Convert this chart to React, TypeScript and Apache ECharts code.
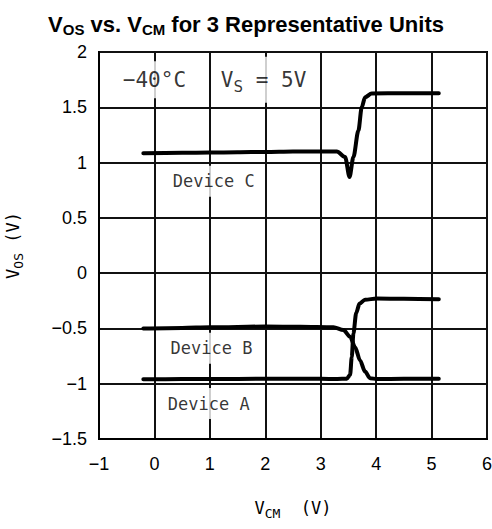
import React, { useEffect, useRef } from "react";
import * as echarts from "echarts";

// V_CM (V) sample positions and V_OS (V) values
const deviceAX = [-0.2, 0.5, 1.0, 2.0, 3.0, 3.3, 3.47, 3.53, 3.56, 3.59, 3.64, 3.7, 3.8, 4.01, 4.5, 5.13];
const deviceAY = [-0.96, -0.958, -0.957, -0.956, -0.956, -0.957, -0.955, -0.92, -0.76, -0.545, -0.36, -0.275, -0.24, -0.23, -0.232, -0.235];

const deviceBX = [-0.2, 0.5, 1.0, 2.0, 2.63, 3.23, 3.41, 3.53, 3.62, 3.71, 3.8, 3.89, 4.01, 4.5, 5.13];
const deviceBY = [-0.5, -0.495, -0.49, -0.483, -0.485, -0.49, -0.515, -0.575, -0.67, -0.79, -0.89, -0.95, -0.958, -0.956, -0.955];

const deviceCX = [-0.2, 0.5, 1.0, 1.5, 2.0, 2.5, 3.0, 3.29, 3.44, 3.52, 3.59, 3.68, 3.74, 3.8, 3.92, 4.5, 5.13];
const deviceCY = [1.085, 1.088, 1.09, 1.093, 1.096, 1.1, 1.1, 1.1, 1.05, 0.87, 1.05, 1.29, 1.5, 1.59, 1.625, 1.627, 1.627];

// Annotation texts and their anchor positions (data coordinates)
const noteTexts = ["\u221240\u00b0C", "V{s|S} = 5V", "Device C", "Device B", "Device A"];
const noteX = [0.0, 1.97, 1.07, 1.03, 0.98];
const noteY = [1.75, 1.75, 0.83, -0.68, -1.18];
const noteSize = [21, 21, 17, 17, 17];
const notePad = [[8, 4], [8, 4], [7, 5], [7, 5], [7, 5]];

const xMin = -1, xMax = 6, xStep = 1;
const yMin = -1.5, yMax = 2, yStep = 0.5;

const zip = (xs: number[], ys: number[]) => xs.map((x, i) => [x, ys[i]]);
const minus = (v: number) => String(v).replace("-", "\u2212");

export default function App() {
  const ref = useRef<HTMLDivElement>(null);
  useEffect(() => {
    if (!ref.current) return;
    const chart = echarts.init(ref.current, undefined, { renderer: "svg" });
    const mono = "DejaVu Sans Mono";
    const curve = (name: string, data: number[][]) => ({
      name,
      type: "line",
      data,
      showSymbol: false,
      smooth: 0.3,
      smoothMonotone: "x",
      z: 3,
      lineStyle: { color: "#000", width: 4, cap: "round", join: "round" },
      silent: true,
    });
    const axisName = (size: number) => ({
      fontFamily: mono,
      fontSize: size,
      color: "#000",
      rich: { s: { fontFamily: mono, fontSize: Math.round(size * 0.77), color: "#000", padding: [12, 0, 0, 0] } },
    });
    const gridStyle = { color: "#111111", width: 2 };
    chart.setOption({
      animation: false,
      title: {
        left: "center",
        top: 6,
        text: "{b|V}{bs|OS}{b| vs. V}{bs|CM}{b| for 3 Representative Units}",
        textStyle: {
          rich: {
            b: { fontSize: 22, fontWeight: "bold", fontFamily: "Liberation Sans", color: "#000", lineHeight: 26 },
            bs: { fontSize: 15, fontWeight: "bold", fontFamily: "Liberation Sans", color: "#000", padding: [10, 0, 0, 0], lineHeight: 26 },
          },
        },
      },
      grid: { left: 99, right: 5, top: 52, bottom: 90, outerBoundsMode: "none", containLabel: false, show: true, borderColor: "#000", borderWidth: 2, backgroundColor: "rgba(0,0,0,0)" },
      xAxis: {
        type: "value",
        min: xMin,
        max: xMax,
        interval: xStep,
        name: "V{s|CM}  (V)",
        nameLocation: "middle",
        nameGap: 56,
        nameTextStyle: axisName(17),
        axisLine: { show: true, onZero: false, lineStyle: { color: "#000", width: 2 } },
        axisTick: { show: true, length: 0, lineStyle: { color: "#000" } },
        splitLine: { show: true, lineStyle: gridStyle },
        axisLabel: { fontFamily: "Liberation Sans", fontSize: 18, color: "#000", margin: 16, formatter: minus },
      },
      yAxis: {
        type: "value",
        min: yMin,
        max: yMax,
        interval: yStep,
        name: "V{s|OS} (V)",
        nameLocation: "middle",
        nameRotate: 90,
        nameGap: 74,
        nameTextStyle: axisName(17),
        axisLine: { show: true, onZero: false, lineStyle: { color: "#000", width: 2 } },
        axisTick: { show: true, length: 0, lineStyle: { color: "#000" } },
        splitLine: { show: true, lineStyle: gridStyle },
        axisLabel: { fontFamily: "Liberation Sans", fontSize: 18, color: "#000", margin: 12, formatter: minus },
      },
      series: [
        curve("Device A", zip(deviceAX, deviceAY)),
        curve("Device B", zip(deviceBX, deviceBY)),
        curve("Device C", zip(deviceCX, deviceCY)),
        ...noteTexts.map((t, i) => ({
          type: "scatter",
          data: [[noteX[i], noteY[i]]],
          symbolSize: 1,
          itemStyle: { color: "rgba(0,0,0,0)" },
          silent: true,
          z: 5,
          label: {
            show: true,
            position: "inside",
            formatter: t,
            fontFamily: mono,
            fontSize: noteSize[i],
            color: "#000",
            backgroundColor: "#fff",
            padding: notePad[i],
            rich: { s: { fontFamily: mono, fontSize: Math.round(noteSize[i] * 0.77), color: "#000", padding: [14, 0, 0, 0] } },
          },
        })),
      ],
    });
    return () => chart.dispose();
  }, []);
  return <div ref={ref} style={{ position: "absolute", left: 0, top: 0, width: 492, height: 529 }} />;
}
